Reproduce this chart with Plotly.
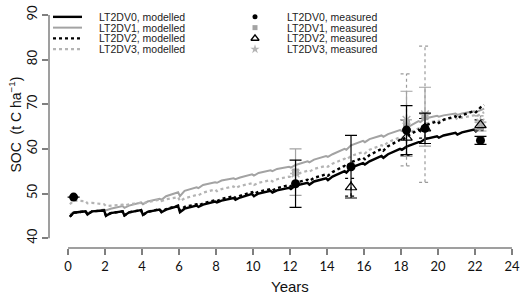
import plotly.graph_objects as go

# ---------------- data ----------------
# modelled SOC (t C/ha): per year k, samples at k+0.05 (after annual drop), k+0.3, k+0.95
MODEL_T = [0.1, 0.3, 0.95] + [round(k + f, 2) for k in range(1, 22) for f in (0.05, 0.3, 0.95)] + [22.05, 22.3, 22.5]

LT2DV0_MOD = [44.8, 45.7, 46.0, 45.3, 46.0, 46.2, 45.0, 45.6, 46.0, 45.1, 45.8, 46.3,
              45.2, 45.9, 46.4, 45.8, 46.4, 47.2, 45.8, 46.6, 47.3, 47.0, 47.5, 48.2,
              48.0, 48.4, 49.0, 48.6, 49.1, 49.9, 49.4, 50.0, 50.6, 50.2, 50.7, 51.3,
              51.0, 51.8, 52.4, 52.0, 52.7, 53.4, 53.0, 53.8, 55.0, 54.7, 55.8, 56.8,
              56.5, 57.2, 58.4, 58.0, 58.8, 60.0, 59.8, 60.5, 61.5, 61.5, 62.2, 62.8,
              62.5, 63.0, 63.6, 63.2, 63.7, 64.3, 63.9, 64.8, 65.2]
LT2DV1_MOD = [45.3, 45.8, 46.0, 45.6, 46.0, 46.4, 46.2, 46.6, 47.2, 46.8, 47.3, 48.0,
              47.6, 48.2, 48.8, 48.6, 49.4, 50.3, 49.4, 50.6, 51.4, 51.2, 51.9, 52.5,
              52.4, 52.9, 53.4, 53.2, 53.6, 54.3, 54.0, 54.6, 55.2, 55.0, 55.5, 56.0,
              55.8, 56.4, 57.2, 57.0, 57.6, 58.4, 58.2, 58.8, 60.0, 59.8, 60.8, 61.8,
              61.5, 62.2, 63.0, 62.7, 63.3, 64.2, 64.0, 64.7, 66.2, 66.0, 66.8, 67.4,
              67.2, 67.5, 67.9, 67.6, 67.9, 68.4, 68.2, 68.6, 69.0]
LT2DV2_MOD = [44.8, 45.7, 46.0, 45.3, 46.0, 46.2, 45.0, 45.6, 46.0, 45.1, 45.8, 46.3,
              45.2, 45.9, 46.5, 45.9, 46.5, 47.3, 46.2, 47.0, 47.6, 47.3, 47.8, 48.5,
              48.3, 48.8, 49.4, 49.0, 49.5, 50.3, 49.9, 50.4, 51.0, 50.7, 51.2, 51.9,
              51.6, 52.4, 53.1, 52.8, 53.5, 54.3, 54.0, 54.8, 56.2, 55.9, 57.0, 58.0,
              57.7, 58.6, 60.0, 59.6, 60.6, 62.0, 61.8, 62.8, 64.3, 64.0, 65.2, 66.2,
              65.8, 66.5, 67.3, 66.8, 67.5, 68.5, 68.2, 69.3, 69.8]
LT2DV3_MOD = [47.6, 48.4, 48.3, 47.8, 47.9, 47.6, 47.2, 47.3, 47.5, 47.3, 47.6, 47.9,
              47.8, 48.1, 48.6, 48.3, 48.7, 49.2, 48.3, 48.9, 49.7, 49.6, 50.2, 50.9,
              50.5, 51.0, 51.6, 51.2, 51.7, 52.3, 51.9, 52.4, 53.0, 52.7, 53.2, 53.8,
              53.6, 54.3, 55.1, 54.9, 55.5, 56.2, 56.0, 56.7, 57.8, 57.6, 58.4, 59.3,
              59.0, 59.8, 60.8, 60.6, 61.5, 62.6, 62.4, 63.3, 64.6, 64.5, 65.6, 66.4,
              66.2, 66.6, 67.0, 66.6, 67.0, 67.5, 67.2, 67.8, 68.2]

# measured SOC with error (sd); None = not shown
MEAS_T = [0.3, 12.3, 15.3, 18.3, 19.3, 22.3]
LT2DV0_MEAS = [49.2, 52.2, 56.0, 64.2, 64.6, 61.9]
LT2DV0_SD   = [0.0, 5.3, 7.0, 5.5, 3.4, 0.9]
LT2DV1_MEAS = [None, 54.8, None, 65.6, 67.2, 65.0]
LT2DV1_SD   = [None, 5.2, None, 7.3, 6.6, 1.0]
LT2DV2_MEAS = [None, None, 51.4, 62.5, 64.6, 65.3]
LT2DV2_SD   = [None, None, 2.0, 4.0, 2.2, 1.2]
LT2DV3_MEAS = [None, 54.5, None, 66.5, 67.75, 65.9]
LT2DV3_SD   = [None, 0.0, None, 10.3, 15.25, 1.5]

X_TICKS = list(range(0, 25, 2))
Y_TICKS = [40, 50, 60, 70, 80, 90]
MOD_NAMES = ["LT2DV0, modelled", "LT2DV1, modelled", "LT2DV2, modelled", "LT2DV3, modelled"]
MEAS_NAMES = ["LT2DV0, measured", "LT2DV1, measured", "LT2DV2, measured", "LT2DV3, measured"]

# ---------------- style ----------------
BLACK = "#000000"
GRAY = "#a3a3a3"
LGRAY = "#b4b4b4"
AXIS_C = "#7f7f7f"
TXT_FONT = "Liberation Sans, Arial, sans-serif"
TICK_FONT = "Lato, sans-serif"

W, H = 526, 300
ML, MR, MT, MB = 49, 10, 5, 52
PW, PH = W - ML - MR, H - MT - MB


def px_x(x):  # pixel -> paper
    return (x - ML) / PW


def px_y(y):
    return (H - MB - y) / PH


fig = go.Figure()

mod_series = [(LT2DV0_MOD, BLACK, "solid", 2.4), (LT2DV1_MOD, GRAY, "solid", 2.0),
              (LT2DV2_MOD, BLACK, "dot", 2.4), (LT2DV3_MOD, LGRAY, "dot", 2.2)]
# draw gray ones first so black stays on top
for idx in (1, 3, 2, 0):
    vals, col, dash, w = mod_series[idx]
    fig.add_trace(go.Scatter(x=MODEL_T, y=vals, mode="lines", name=MOD_NAMES[idx],
                             line=dict(color=col, dash=dash, width=w), showlegend=False))


def pick(means, sds):
    xs, ys, es = [], [], []
    for t, m, s in zip(MEAS_T, means, sds):
        if m is not None:
            xs.append(t); ys.append(m); es.append(s)
    return xs, ys, es


CAP = 0.32  # half cap width in years (~6 px)


def dotted_bars(means, sds, color):
    bx, by = [], []
    for t, m, s in zip(*pick(means, sds)):
        if s and s > 0:
            bx += [t, t, None, t - CAP, t + CAP, None, t - CAP, t + CAP, None]
            by += [m - s, m + s, None, m - s, m - s, None, m + s, m + s, None]
    fig.add_trace(go.Scatter(x=bx, y=by, mode="lines", showlegend=False, hoverinfo="skip",
                             line=dict(color=color, width=1.2, dash="dot")))


# dotted error bars (V3 gray, V2 black)
dotted_bars(LT2DV3_MEAS, LT2DV3_SD, "#9a9a9a")
dotted_bars(LT2DV2_MEAS, LT2DV2_SD, BLACK)

# V1 gray squares with solid gray bars
x1, y1, e1 = pick(LT2DV1_MEAS, LT2DV1_SD)
fig.add_trace(go.Scatter(x=x1, y=y1, mode="markers", name=MEAS_NAMES[1], showlegend=False,
                         marker=dict(symbol="square", size=7, color=GRAY),
                         error_y=dict(type="data", array=e1, color=GRAY, thickness=1.2, width=6)))
# V3 gray stars
x3, y3, e3 = pick(LT2DV3_MEAS, LT2DV3_SD)
fig.add_trace(go.Scatter(x=x3, y=y3, mode="markers", name=MEAS_NAMES[3], showlegend=False,
                         marker=dict(symbol="asterisk-open", size=9, color=LGRAY,
                                     line=dict(color="#a8a8a8", width=1.5))))
# V2 open triangles
x2, y2, e2 = pick(LT2DV2_MEAS, LT2DV2_SD)
fig.add_trace(go.Scatter(x=x2, y=y2, mode="markers", name=MEAS_NAMES[2], showlegend=False,
                         marker=dict(symbol="triangle-up-open", size=10, color=BLACK,
                                     line=dict(color=BLACK, width=1.2))))
# V0 black circles with solid black bars
x0, y0, e0 = pick(LT2DV0_MEAS, LT2DV0_SD)
fig.add_trace(go.Scatter(x=x0, y=y0, mode="markers", name=MEAS_NAMES[0], showlegend=False,
                         marker=dict(symbol="circle", size=9, color=BLACK),
                         error_y=dict(type="data", array=e0, color=BLACK, thickness=1.2, width=6)))

# ---------------- manual legend (overlay axes in paper units) ----------------
ROWS_PX = [12, 23, 34, 45]
LINE_X_PX = (53, 82)
LTEXT_PX = 97
MARK_X_PX = 255
RTEXT_PX = 285
for i, (vals, col, dash, w) in enumerate(mod_series):
    fig.add_trace(go.Scatter(x=[px_x(LINE_X_PX[0]), px_x(LINE_X_PX[1])],
                             y=[px_y(ROWS_PX[i])] * 2, xaxis="x2", yaxis="y2",
                             mode="lines", showlegend=False, hoverinfo="skip",
                             line=dict(color=col, dash=dash, width=w)))
leg_marks = [dict(symbol="circle", size=5, color=BLACK),
             dict(symbol="square", size=5, color=GRAY),
             dict(symbol="triangle-up-open", size=7, color=BLACK, line=dict(color=BLACK, width=1.5)),
             dict(symbol="star", size=7, color=LGRAY)]
for i, mk in enumerate(leg_marks):
    fig.add_trace(go.Scatter(x=[px_x(MARK_X_PX)], y=[px_y(ROWS_PX[i])], xaxis="x2", yaxis="y2",
                             mode="markers", showlegend=False, hoverinfo="skip", marker=mk))

annotations = []
for i in range(4):
    annotations.append(dict(x=px_x(LTEXT_PX), y=px_y(ROWS_PX[i]), xref="paper", yref="paper",
                            text=MOD_NAMES[i], showarrow=False, xanchor="left", yanchor="middle",
                            font=dict(family=TXT_FONT, size=10.5, color="#222222")))
    annotations.append(dict(x=px_x(RTEXT_PX), y=px_y(ROWS_PX[i]), xref="paper", yref="paper",
                            text=MEAS_NAMES[i], showarrow=False, xanchor="left", yanchor="middle",
                            font=dict(family=TXT_FONT, size=10.5, color="#222222")))
# axis titles
annotations.append(dict(x=px_x(290), y=px_y(287), xref="paper", yref="paper", text="Years",
                        showarrow=False, xanchor="center", yanchor="middle",
                        font=dict(family=TXT_FONT, size=15, color="#111111")))
annotations.append(dict(x=px_x(15), y=px_y(122), xref="paper", yref="paper",
                        text="SOC  (t C ha<sup>−1</sup>)", textangle=-90,
                        showarrow=False, xanchor="center", yanchor="middle",
                        font=dict(family=TXT_FONT, size=14, color="#111111")))

# R-style axis lines spanning only first..last tick
shapes = [dict(type="line", xref="x", yref="paper", x0=X_TICKS[0], x1=X_TICKS[-1], y0=0, y1=0,
               line=dict(color=AXIS_C, width=1.5)),
          dict(type="line", xref="paper", yref="y", x0=0, x1=0, y0=Y_TICKS[0], y1=Y_TICKS[-1],
               line=dict(color=AXIS_C, width=1.5))]

fig.update_layout(
    width=W, height=H, margin=dict(l=ML, r=MR, t=MT, b=MB),
    paper_bgcolor="white", plot_bgcolor="white", showlegend=False,
    annotations=annotations, shapes=shapes,
    xaxis=dict(range=[-1.03, 24.22], tickvals=X_TICKS, ticks="outside", ticklen=6,
               tickcolor=AXIS_C, tickwidth=1.5, showline=False, showgrid=False, zeroline=False,
               tickfont=dict(family=TICK_FONT, size=13, color="#111111")),
    yaxis=dict(range=[37.8, 91.1], tickvals=Y_TICKS, ticks="outside", ticklen=6,
               tickcolor=AXIS_C, tickwidth=1.5, showline=False, showgrid=False, zeroline=False,
               tickangle=-90,
               tickfont=dict(family=TICK_FONT, size=13, color="#111111")),
    xaxis2=dict(overlaying="x", range=[0, 1], visible=False),
    yaxis2=dict(overlaying="y", range=[0, 1], visible=False),
)

fig.write_html("out.html", config={"displayModeBar": False},
               post_script="document.body.style.margin='0';document.body.style.padding='0';")
